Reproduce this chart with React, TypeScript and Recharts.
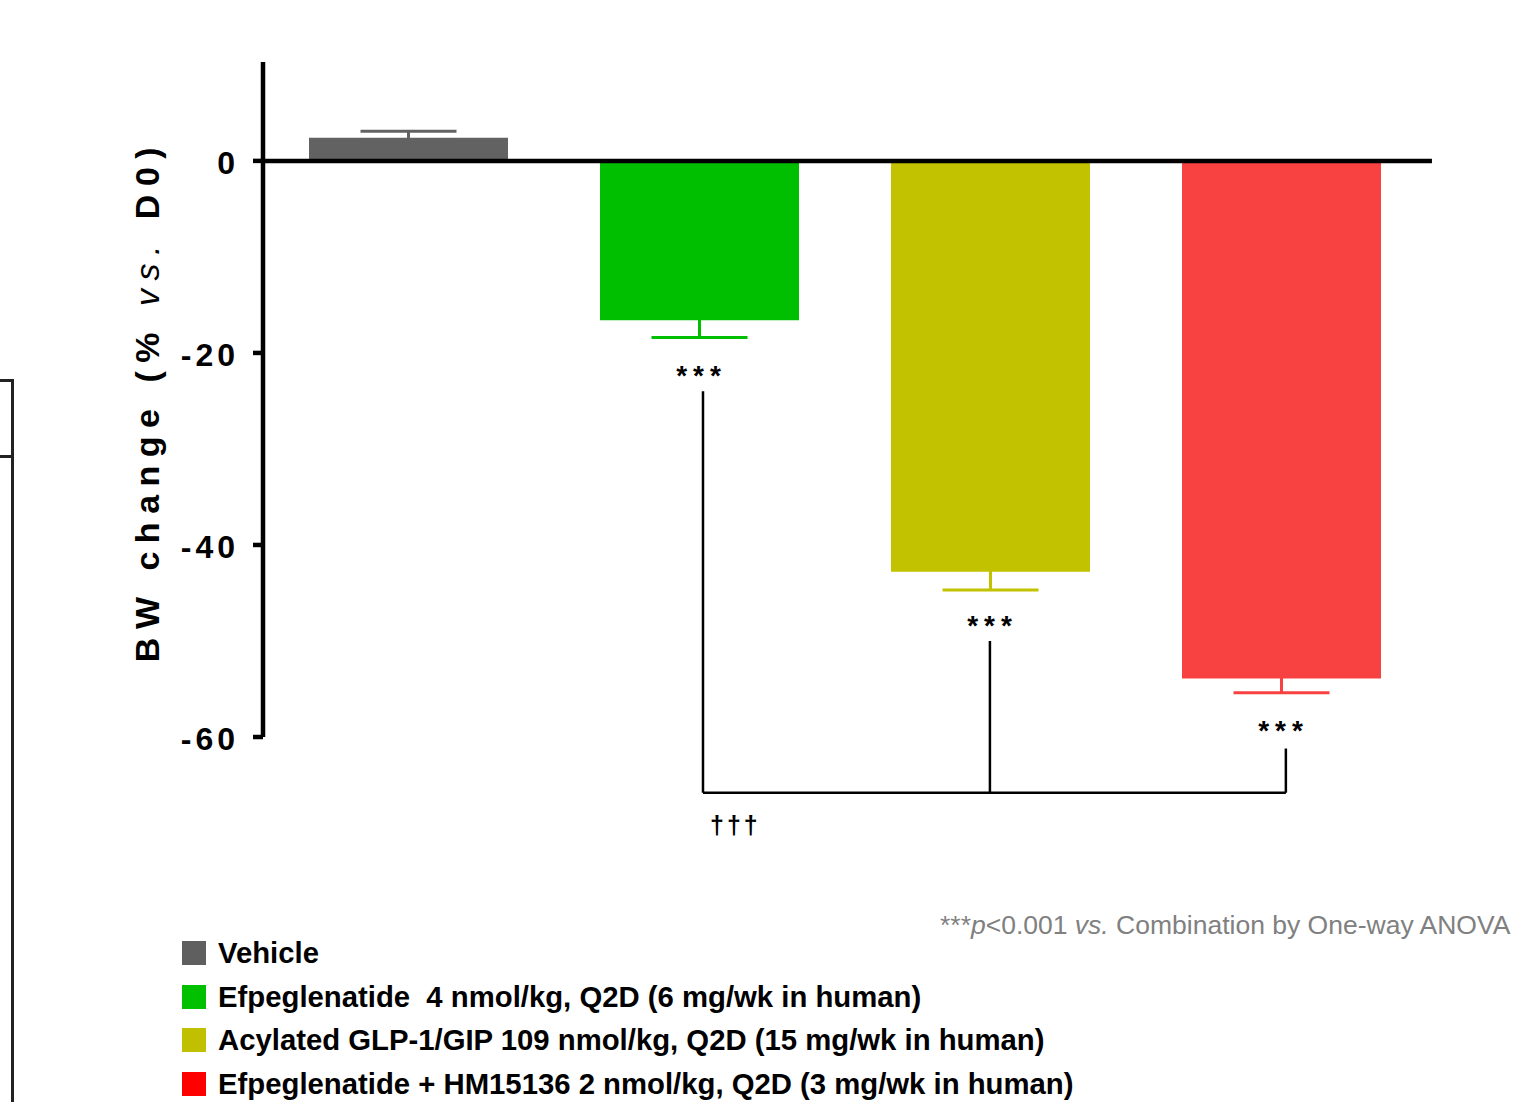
import React from "react"
import {
  BarChart,
  Bar,
  XAxis,
  YAxis,
  ErrorBar,
  Cell,
  ReferenceLine,
  ReferenceDot,
} from "recharts"

const FONT = '"Liberation Sans", Arial, sans-serif'

// groups and values (% BW change vs. D0)
const groups = ["Vehicle", "Efpeglenatide", "Acylated GLP-1/GIP", "Efpeglenatide + HM15136"]
const bwChange = [2.4, -16.6, -42.8, -53.9]
const semUp = [0.7, 0, 0, 0]
const semDown = [0, 1.8, 1.9, 1.5]
const barColors = ["#626262", "#00bf00", "#c2c200", "#f84242"]
const yTicks = [0, -20, -40, -60]

const legendLabels = [
  "Vehicle",
  "Efpeglenatide  4 nmol/kg, Q2D (6 mg/wk in human)",
  "Acylated GLP-1/GIP 109 nmol/kg, Q2D (15 mg/wk in human)",
  "Efpeglenatide + HM15136 2 nmol/kg, Q2D (3 mg/wk in human)",
]
const legendColors = ["#5f5f5f", "#00c000", "#c0c000", "#ff0000"]

// significance marks: star label level per group, bracket legs (x on 0..4 group scale)
const starLevel = [null, -22, -48, -59]
const bracketX = [1.512, 2.498, 3.515]
const bracketTop = [-24, -50, -61.2]
const bracketBase = -65.8
const daggerX = 1.62
const daggerLevel = -69.3

const rows = groups.map((g, i) => {
  const row: any = { group: g, pos: i + 0.5, value: bwChange[i] }
  // one-sided SEM: the short inner side stays hidden inside the bar
  row["err" + i] = [semDown[i] || 0.3, semUp[i] || 0.3]
  return row
})

function YTick({ x, y, payload }: any) {
  return (
    <text
      x={x - 12}
      y={y + 13}
      textAnchor="end"
      fontFamily={FONT}
      fontWeight={700}
      fontSize={32}
      letterSpacing={4}
      fill="#000"
    >
      {payload.value}
    </text>
  )
}

function YTitle({ viewBox }: any) {
  const cx = viewBox.x - 24
  const cy = viewBox.y + viewBox.height / 2 + 1
  return (
    <text
      x={cx}
      y={cy}
      transform={`rotate(-90 ${cx} ${cy})`}
      textAnchor="middle"
      fontFamily={FONT}
      fontWeight={700}
      fontSize={34}
      letterSpacing={8.5}
      fill="#000"
    >
      <tspan>BW change (% </tspan>
      <tspan fontStyle="italic" fontWeight={400}>vs.</tspan>
      <tspan> D0)</tspan>
    </text>
  )
}

function StarMark({ cx, cy }: any) {
  return (
    <text
      x={cx + 2}
      y={cy + 13}
      textAnchor="middle"
      fontFamily={FONT}
      fontWeight={700}
      fontSize={28}
      letterSpacing={6}
      fill="#000"
    >
      ***
    </text>
  )
}

function DaggerMark({ cx, cy }: any) {
  return (
    <text
      x={cx + 1}
      y={cy + 8}
      textAnchor="middle"
      fontFamily={FONT}
      fontWeight={700}
      fontSize={25}
      letterSpacing={3}
      fill="#000"
    >
      †††
    </text>
  )
}

export default function App() {
  return (
    <div style={{ position: "absolute", left: 0, top: 0, width: 1519, height: 1102, background: "#fff", fontFamily: FONT }}>
      {/* edge of neighbouring panel */}
      <div style={{ position: "absolute", left: 0, top: 379, width: 13, height: 2.5, background: "#222" }} />
      <div style={{ position: "absolute", left: 0, top: 455, width: 13, height: 2.5, background: "#222" }} />
      <div style={{ position: "absolute", left: 11, top: 379, width: 2.5, height: 723, background: "#222" }} />

      <BarChart
        width={1519}
        height={1102}
        data={rows}
        margin={{ top: 62, right: 92, bottom: 365, left: 183 }}
        style={{ position: "absolute", left: 0, top: 0 }}
      >
        <XAxis dataKey="group" hide />
        <XAxis xAxisId="ann" dataKey="pos" type="number" domain={[0, 4]} allowDataOverflow hide />
        <YAxis
          domain={[-60, 10.3]}
          allowDataOverflow
          ticks={yTicks}
          interval={0}
          width={80}
          tickSize={10}
          axisLine={{ stroke: "#000", strokeWidth: 4.5 }}
          tickLine={{ stroke: "#000", strokeWidth: 4.5 }}
          tick={<YTick />}
          label={<YTitle />}
        />
        <Bar dataKey="value" barSize={199} isAnimationActive={false}>
          {rows.map((r, i) => (
            <Cell key={r.group} fill={barColors[i]} />
          ))}
          {groups.map((g, i) => (
            <ErrorBar
              key={g}
              dataKey={"err" + i}
              width={48}
              stroke={barColors[i]}
              strokeWidth={3}
              isAnimationActive={false}
            />
          ))}
        </Bar>
        <ReferenceLine
          xAxisId="ann"
          segment={[{ x: 0, y: 0 }, { x: 4.017, y: 0 }]}
          stroke="#000"
          strokeWidth={4.5}
          ifOverflow="visible"
        />
        {bracketX.map((bx, i) => (
          <ReferenceLine
            key={"leg" + i}
            xAxisId="ann"
            segment={[{ x: bx, y: bracketTop[i] }, { x: bx, y: bracketBase }]}
            stroke="#000"
            strokeWidth={2.5}
            ifOverflow="visible"
          />
        ))}
        <ReferenceLine
          xAxisId="ann"
          segment={[{ x: bracketX[0], y: bracketBase }, { x: bracketX[2], y: bracketBase }]}
          stroke="#000"
          strokeWidth={2.5}
          ifOverflow="visible"
        />
        {groups.map((g, i) =>
          starLevel[i] === null ? null : (
            <ReferenceDot
              key={"star" + i}
              x={g}
              y={starLevel[i] as number}
              r={1}
              ifOverflow="visible"
              shape={(p: any) => <StarMark {...p} />}
            />
          )
        )}
        <ReferenceDot
          xAxisId="ann"
          x={daggerX}
          y={daggerLevel}
          r={1}
          ifOverflow="visible"
          shape={(p: any) => <DaggerMark {...p} />}
        />
      </BarChart>

      <div
        style={{
          position: "absolute",
          left: 940,
          top: 910,
          fontSize: 26.5,
          color: "#808080",
          whiteSpace: "nowrap",
          lineHeight: "30px",
        }}
      >
        ***<i>p</i>&lt;0.001 <i>vs.</i> Combination by One-way ANOVA
      </div>

      <div style={{ position: "absolute", left: 182, top: 931 }}>
        {legendLabels.map((t, i) => (
          <div key={t} style={{ display: "flex", alignItems: "center", height: 43.7 }}>
            <div style={{ width: 24, height: 24, background: legendColors[i], marginRight: 12 }} />
            <span style={{ fontSize: 29.3, fontWeight: 700, color: "#000", whiteSpace: "pre" }}>{t}</span>
          </div>
        ))}
      </div>
    </div>
  )
}
